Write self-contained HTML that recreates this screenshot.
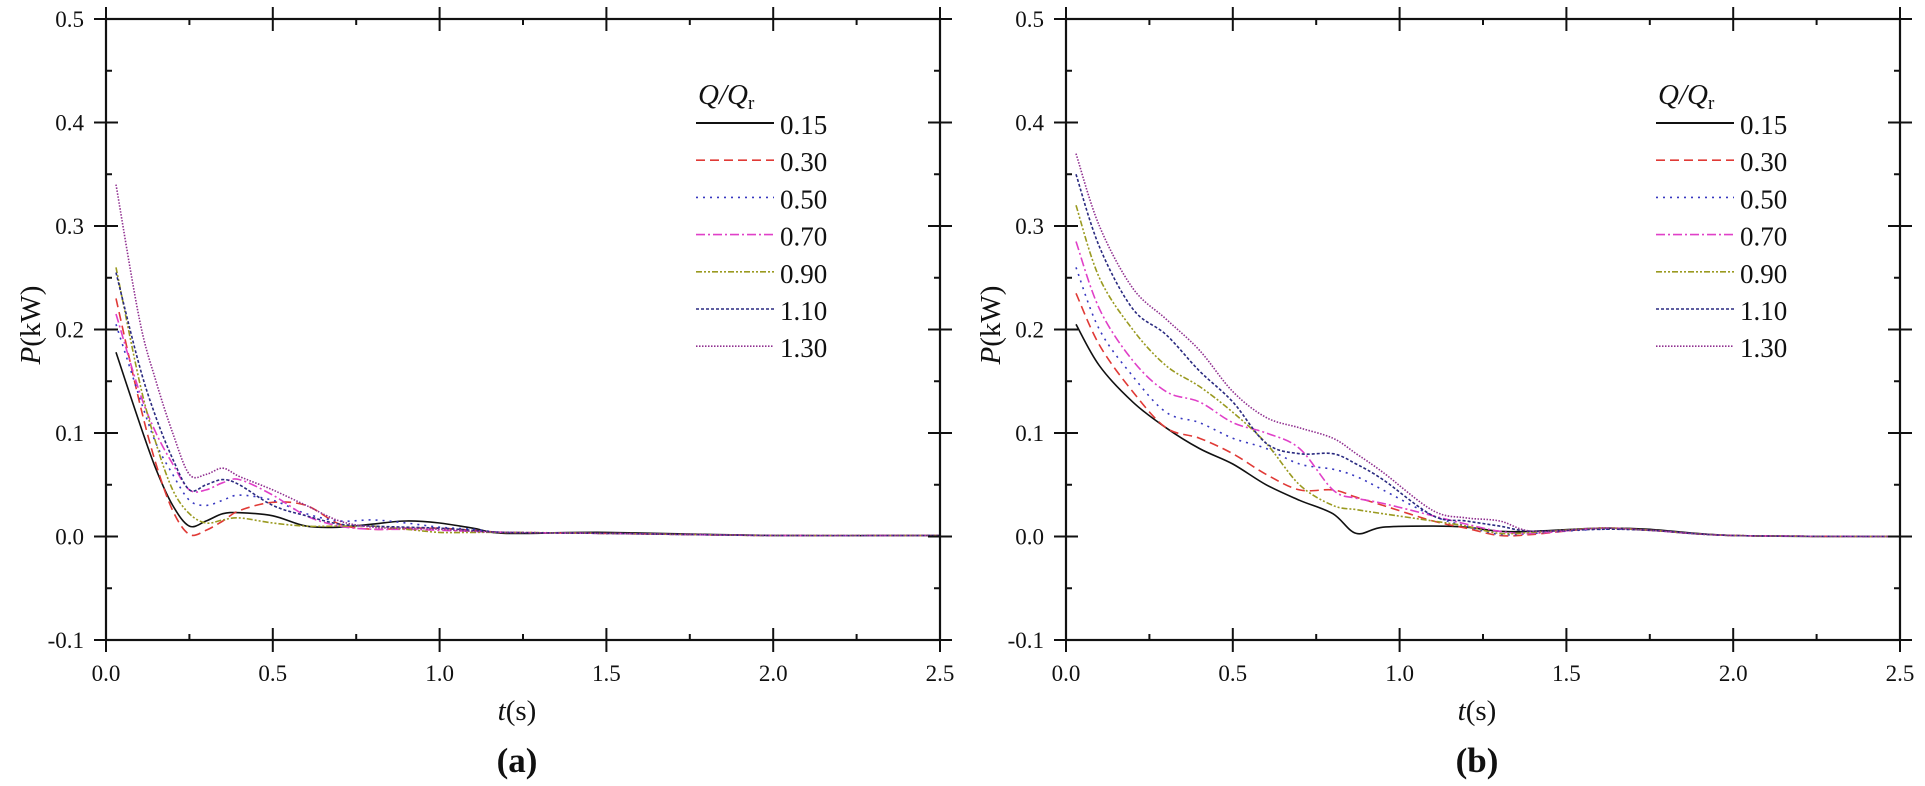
<!DOCTYPE html>
<html><head><meta charset="utf-8"><style>
html,body{margin:0;padding:0;background:#fff}
svg{display:block}
text{font-family:"Liberation Serif",serif;fill:#111}
</style></head><body>
<svg id="chart" width="1925" height="786" viewBox="0 0 1925 786" xmlns="http://www.w3.org/2000/svg"></svg>
<script>
const xTicks = [0.0, 0.5, 1.0, 1.5, 2.0, 2.5];
const xTickLabels = ["0.0", "0.5", "1.0", "1.5", "2.0", "2.5"];
const yTicks = [-0.1, 0.0, 0.1, 0.2, 0.3, 0.4, 0.5];
const yTickLabels = ["-0.1", "0.0", "0.1", "0.2", "0.3", "0.4", "0.5"];
const seriesNames = ["0.15", "0.30", "0.50", "0.70", "0.90", "1.10", "1.30"];

const timeA = [0.03,0.1,0.15,0.2,0.25,0.3,0.35,0.4,0.5,0.6,0.7,0.8,0.9,1.0,1.1,1.2,1.5,2.0,2.5];
const a015 = [.178,.11,.065,.03,.01,.015,.022,.023,.02,.01,.009,.012,.015,.013,.008,.003,.004,.001,.001];
const a030 = [.23,.13,.07,.025,.002,.006,.015,.025,.033,.03,.012,.007,.008,.008,.006,.004,.003,.001,.001];
const a050 = [.205,.135,.09,.06,.035,.03,.035,.04,.035,.022,.015,.016,.013,.009,.007,.004,.003,.001,.001];
const a070 = [.215,.14,.1,.07,.045,.045,.052,.055,.04,.02,.01,.007,.007,.006,.005,.004,.003,.001,.001];
const a090 = [.26,.15,.09,.045,.022,.013,.016,.018,.013,.01,.01,.01,.007,.004,.004,.004,.003,.001,.001];
const a110 = [.255,.165,.115,.075,.045,.05,.055,.05,.03,.02,.012,.01,.009,.008,.006,.004,.003,.001,.001];
const a130 = [.34,.21,.15,.1,.06,.06,.066,.058,.045,.03,.015,.009,.008,.007,.005,.004,.003,.001,.001];

const timeB = [0.03,0.1,0.2,0.3,0.4,0.5,0.6,0.7,0.8,0.87,0.95,1.1,1.2,1.3,1.4,1.6,1.75,2.0,2.5];
const b015 = [.205,.165,.13,.105,.085,.07,.05,.035,.022,.003,.009,.01,.009,.005,.005,.008,.007,.001,0];
const b030 = [.235,.185,.14,.105,.095,.08,.06,.045,.045,.038,.03,.015,.008,.001,.002,.008,.006,.001,0];
const b050 = [.26,.2,.155,.12,.11,.095,.085,.07,.065,.058,.045,.02,.01,.002,.003,.007,.006,.001,0];
const b070 = [.285,.22,.17,.14,.13,.11,.1,.085,.045,.037,.032,.02,.012,.005,.003,.008,.006,.001,0];
const b090 = [.32,.25,.2,.165,.145,.12,.09,.05,.03,.026,.022,.015,.01,.003,.004,.008,.006,.001,0];
const b110 = [.35,.28,.22,.195,.16,.13,.09,.08,.08,.07,.055,.02,.015,.01,.005,.007,.006,.001,0];
const b130 = [.37,.3,.24,.21,.18,.14,.115,.105,.095,.08,.062,.025,.018,.015,.005,.008,.006,.001,0];

const styles = [
  {c:"#111", d:""},
  {c:"#e03a36", d:"9 5"},
  {c:"#3838c0", d:"2 5"},
  {c:"#e040c8", d:"9 3 2 3"},
  {c:"#9a9a20", d:"6 2 2 2 2 2"},
  {c:"#2a2a80", d:"3 2"},
  {c:"#903090", d:"1.5 1.5"}
];

const NS = "http://www.w3.org/2000/svg";
const svg = document.getElementById('chart');
function mk(tag, attrs, parent) {
  const e = document.createElementNS(NS, tag);
  for (const k in attrs) e.setAttribute(k, attrs[k]);
  (parent || svg).appendChild(e);
  return e;
}
function smoothPath(pts) {
  let d = "M" + pts[0][0].toFixed(1) + "," + pts[0][1].toFixed(1);
  for (let i = 0; i < pts.length - 1; i++) {
    const p0 = pts[Math.max(0, i - 1)], p1 = pts[i], p2 = pts[i + 1], p3 = pts[Math.min(pts.length - 1, i + 2)];
    const c1 = [p1[0] + (p2[0] - p0[0]) / 6, p1[1] + (p2[1] - p0[1]) / 6];
    const c2 = [p2[0] - (p3[0] - p1[0]) / 6, p2[1] - (p3[1] - p1[1]) / 6];
    d += " C" + c1[0].toFixed(1) + "," + c1[1].toFixed(1) + " " + c2[0].toFixed(1) + "," + c2[1].toFixed(1) + " " + p2[0].toFixed(1) + "," + p2[1].toFixed(1);
  }
  return d;
}

function panel(left, right, top, bottom, times, series, tag, letter) {
  const g = mk('g', {});
  
  
  const xS = v => left + (v - 0) / 2.5 * (right - left);
  const yS = v => bottom - (v + 0.1) / 0.6 * (bottom - top);

  series.forEach((vals, i) => {
    const pts = times.map((t, j) => [xS(t), yS(vals[j])]);
    const p = mk('path', {d: smoothPath(pts), fill: "none", stroke: styles[i].c, "stroke-width": 1.6, "stroke-dasharray": styles[i].d}, g);
    
    
  });

  const fr = mk('rect', {x: left, y: top, width: right - left, height: bottom - top, fill: "none", stroke: "#111", "stroke-width": 2.2}, g);
  
  

  xTicks.forEach((v, i) => {
    const x = xS(v);
    mk('line', {x1: x, y1: bottom - 12, x2: x, y2: bottom + 12, stroke: "#111", "stroke-width": 2}, g);
    mk('line', {x1: x, y1: top - 12, x2: x, y2: top + 12, stroke: "#111", "stroke-width": 2}, g);
    if (i < xTicks.length - 1) {
      const m = xS(v + 0.25);
      mk('line', {x1: m, y1: bottom - 6, x2: m, y2: bottom, stroke: "#111", "stroke-width": 2}, g);
      mk('line', {x1: m, y1: top, x2: m, y2: top + 6, stroke: "#111", "stroke-width": 2}, g);
    }
    const t = mk('text', {x: x, y: bottom + 41, "text-anchor": "middle", "font-size": 23}, g);
    t.textContent = xTickLabels[i];
    
    
  });
  yTicks.forEach((v, i) => {
    const y = yS(v);
    mk('line', {x1: left - 12, y1: y, x2: left + 12, y2: y, stroke: "#111", "stroke-width": 2}, g);
    mk('line', {x1: right - 12, y1: y, x2: right + 12, y2: y, stroke: "#111", "stroke-width": 2}, g);
    if (i < yTicks.length - 1) {
      const m = yS(v + 0.05);
      mk('line', {x1: left, y1: m, x2: left + 6, y2: m, stroke: "#111", "stroke-width": 2}, g);
      mk('line', {x1: right - 6, y1: m, x2: right, y2: m, stroke: "#111", "stroke-width": 2}, g);
    }
    const t = mk('text', {x: left - 22, y: y + 8, "text-anchor": "end", "font-size": 23}, g);
    t.textContent = yTickLabels[i];
    
    
  });

  const xt = mk('text', {x: (left + right) / 2 - 6, y: bottom + 80, "text-anchor": "middle", "font-size": 29}, g);
  xt.innerHTML = '<tspan font-style="italic">t</tspan>(s)';
  
  
  const yt = mk('text', {x: 0, y: 0, "text-anchor": "middle", "font-size": 29, transform: "translate(" + (left - 66) + "," + (top + 306) + ") rotate(-90)"}, g);
  yt.innerHTML = '<tspan font-style="italic">P</tspan>(kW)';
  
  
  const pl = mk('text', {x: (left + right) / 2 - 6, y: bottom + 132, "text-anchor": "middle", "font-size": 35, "font-weight": "bold"}, g);
  pl.textContent = letter;
  
  

  const lx = left + 590;
  const lg = mk('g', {}, g);
  
  
  const lh = mk('text', {x: lx + 2, y: 104, "font-size": 29, "font-style": "italic"}, lg);
  lh.innerHTML = 'Q/Q<tspan font-size="19" font-style="normal" dy="5">r</tspan>';
  
  
  seriesNames.forEach((n, i) => {
    const y = 123 + i * 37.2;
    const e = mk('g', {}, lg);
    
    
    mk('line', {x1: lx, y1: y, x2: lx + 78, y2: y, stroke: styles[i].c, "stroke-width": i === 0 ? 2 : 1.6, "stroke-dasharray": styles[i].d}, e);
    const t = mk('text', {x: lx + 84, y: y + 11, "font-size": 27}, e);
    t.textContent = n;
  });
}

panel(106, 940, 19, 640, timeA, [a015, a030, a050, a070, a090, a110, a130], 'a', '(a)');
panel(1066, 1900, 19, 640, timeB, [b015, b030, b050, b070, b090, b110, b130], 'b', '(b)');
</script>
</body></html>
